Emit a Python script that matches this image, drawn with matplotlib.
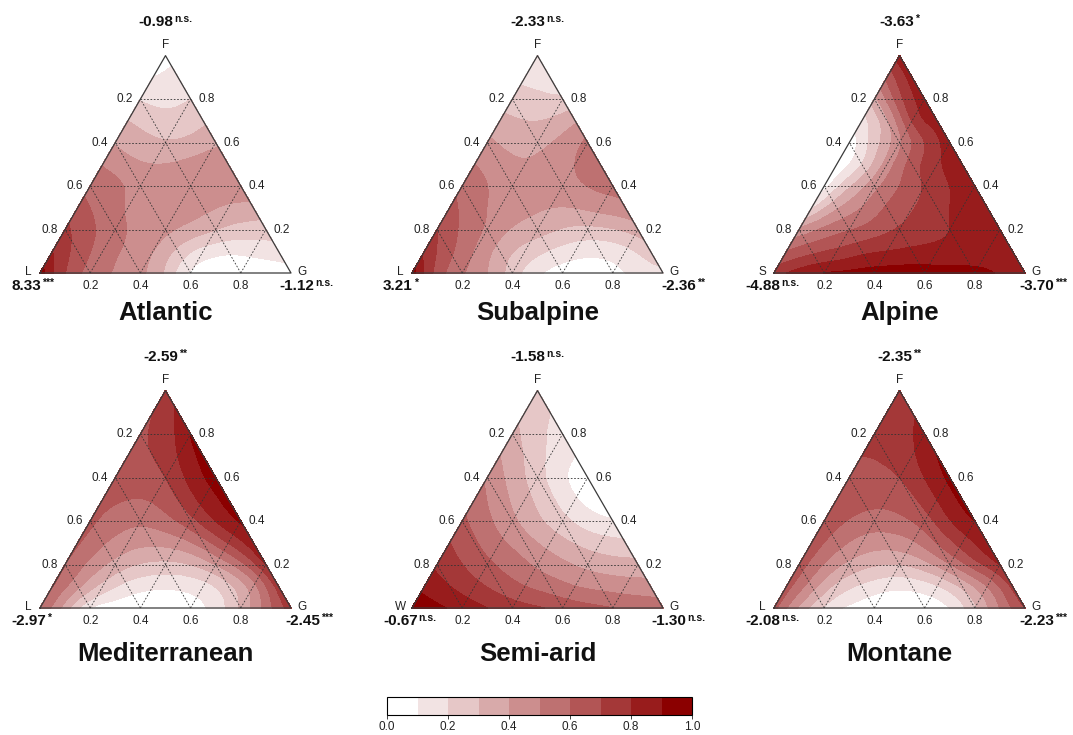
import numpy as np
import matplotlib
matplotlib.use("Agg")
import matplotlib.pyplot as plt
import matplotlib.tri as mtri
from matplotlib.colors import LinearSegmentedColormap

plt.rcParams['font.family'] = ['Liberation Sans', 'DejaVu Sans']

H = np.sqrt(3) / 2

titles = ["Atlantic", "Subalpine", "Alpine", "Mediterranean", "Semi-arid", "Montane"]
left_names = ["L", "L", "S", "L", "W", "L"]
top_coef = [("-0.98", "n.s."), ("-2.33", "n.s."), ("-3.63", "*"),
            ("-2.59", "**"), ("-1.58", "n.s."), ("-2.35", "**")]
left_coef = [("8.33", "***"), ("3.21", "*"), ("-4.88", "n.s."),
             ("-2.97", "*"), ("-0.67", "n.s."), ("-2.08", "n.s.")]
right_coef = [("-1.12", "n.s."), ("-2.36", "**"), ("-3.70", "***"),
              ("-2.45", "***"), ("-1.30", "n.s."), ("-2.23", "***")]

# predicted surface on a 0.1 lattice: rows go from F=1 (apex) down to F=0,
# each row runs from the left vertex (G=0) to the right edge (G=1-F)
atlantic = [
    [0.05],
    [0.10, 0.14],
    [0.19, 0.17, 0.20],
    [0.30, 0.25, 0.24, 0.28],
    [0.39, 0.34, 0.31, 0.33, 0.38],
    [0.49, 0.43, 0.40, 0.41, 0.44, 0.46],
    [0.57, 0.52, 0.46, 0.44, 0.45, 0.47, 0.48],
    [0.64, 0.56, 0.49, 0.45, 0.44, 0.42, 0.38, 0.36],
    [0.72, 0.62, 0.53, 0.47, 0.42, 0.36, 0.30, 0.26, 0.25],
    [0.80, 0.66, 0.55, 0.48, 0.40, 0.27, 0.16, 0.12, 0.13, 0.15],
    [0.95, 0.70, 0.56, 0.49, 0.42, 0.28, 0.08, 0.03, 0.02, 0.03, 0.05],
]
subalpine = [
    [0.12],
    [0.17, 0.13],
    [0.25, 0.23, 0.22],
    [0.33, 0.30, 0.31, 0.38],
    [0.42, 0.37, 0.37, 0.43, 0.52],
    [0.50, 0.44, 0.41, 0.44, 0.50, 0.56],
    [0.57, 0.50, 0.44, 0.43, 0.46, 0.50, 0.53],
    [0.63, 0.54, 0.46, 0.42, 0.40, 0.40, 0.43, 0.46],
    [0.70, 0.58, 0.48, 0.39, 0.34, 0.29, 0.27, 0.29, 0.35],
    [0.78, 0.62, 0.49, 0.36, 0.26, 0.19, 0.14, 0.13, 0.17, 0.25],
    [0.95, 0.66, 0.51, 0.40, 0.25, 0.12, 0.05, 0.04, 0.07, 0.13, 0.17],
]
alpine = [
    [0.86],
    [0.62, 0.84],
    [0.36, 0.66, 0.85],
    [0.16, 0.38, 0.70, 0.85],
    [0.04, 0.25, 0.48, 0.70, 0.85],
    [0.01, 0.20, 0.44, 0.64, 0.78, 0.85],
    [0.05, 0.28, 0.46, 0.60, 0.71, 0.80, 0.85],
    [0.18, 0.38, 0.50, 0.61, 0.69, 0.77, 0.82, 0.85],
    [0.42, 0.52, 0.59, 0.65, 0.71, 0.76, 0.80, 0.83, 0.85],
    [0.60, 0.67, 0.72, 0.77, 0.80, 0.82, 0.83, 0.84, 0.85, 0.85],
    [0.75, 0.84, 0.90, 0.92, 0.94, 0.95, 0.95, 0.94, 0.93, 0.89, 0.85],
]
mediterranean = [
    [0.74],
    [0.70, 0.82],
    [0.69, 0.75, 0.90],
    [0.67, 0.70, 0.80, 0.93],
    [0.65, 0.65, 0.70, 0.83, 0.94],
    [0.63, 0.60, 0.61, 0.70, 0.83, 0.93],
    [0.62, 0.55, 0.52, 0.56, 0.66, 0.80, 0.91],
    [0.61, 0.51, 0.44, 0.42, 0.45, 0.55, 0.70, 0.86],
    [0.60, 0.47, 0.36, 0.29, 0.27, 0.30, 0.40, 0.56, 0.80],
    [0.60, 0.42, 0.26, 0.16, 0.12, 0.12, 0.16, 0.27, 0.46, 0.74],
    [0.60, 0.35, 0.10, 0.04, 0.02, 0.02, 0.06, 0.14, 0.32, 0.54, 0.74],
]
semi_arid = [
    [0.22],
    [0.27, 0.20],
    [0.33, 0.23, 0.15],
    [0.40, 0.29, 0.18, 0.10],
    [0.48, 0.36, 0.24, 0.12, 0.03],
    [0.55, 0.44, 0.33, 0.22, 0.11, 0.04],
    [0.62, 0.52, 0.42, 0.32, 0.23, 0.15, 0.11],
    [0.70, 0.61, 0.52, 0.44, 0.36, 0.29, 0.24, 0.22],
    [0.78, 0.70, 0.62, 0.55, 0.48, 0.42, 0.37, 0.34, 0.33],
    [0.87, 0.80, 0.73, 0.66, 0.60, 0.55, 0.50, 0.47, 0.45, 0.44],
    [0.96, 0.92, 0.86, 0.80, 0.75, 0.71, 0.67, 0.63, 0.60, 0.57, 0.55],
]
montane = [
    [0.72],
    [0.72, 0.78],
    [0.71, 0.74, 0.86],
    [0.70, 0.71, 0.78, 0.90],
    [0.69, 0.68, 0.70, 0.80, 0.92],
    [0.68, 0.64, 0.63, 0.68, 0.80, 0.92],
    [0.67, 0.59, 0.55, 0.57, 0.65, 0.79, 0.90],
    [0.66, 0.54, 0.46, 0.44, 0.48, 0.60, 0.74, 0.86],
    [0.65, 0.49, 0.37, 0.31, 0.30, 0.36, 0.49, 0.65, 0.80],
    [0.64, 0.44, 0.27, 0.18, 0.13, 0.13, 0.19, 0.32, 0.50, 0.72],
    [0.63, 0.38, 0.18, 0.08, 0.03, 0.02, 0.03, 0.10, 0.28, 0.50, 0.70],
]
surfaces = [atlantic, subalpine, alpine, mediterranean, semi_arid, montane]

levels = np.linspace(0, 1, 11)
ramp = LinearSegmentedColormap.from_list("wr", ["#ffffff", "#8b0000"])
colors = [ramp(i / 9) for i in range(10)]


def lattice(rows):
    n = len(rows) - 1
    x, y, z = [], [], []
    for i, row in enumerate(rows):
        f = 1 - i / n
        for j, v in enumerate(row):
            g = j / n
            x.append(g + f / 2)
            y.append(f * H)
            z.append(v)
    idx = lambda i, j: i * (i + 1) // 2 + j
    tris = []
    for i in range(n):
        for j in range(i + 1):
            tris.append([idx(i, j), idx(i + 1, j), idx(i + 1, j + 1)])
            if j < i:
                tris.append([idx(i, j), idx(i + 1, j + 1), idx(i, j + 1)])
    return mtri.Triangulation(x, y, tris), np.array(z)


fig = plt.figure(figsize=(10.73, 7.35), dpi=100)
renderer = fig.canvas.get_renderer()
W, FH = 1073.0, 735.0
scale = 251.0                      # pixels per triangle side
x_left = [40, 412, 774]
y_base = [273, 608]
title_off = [-0.16, -0.183]
xr, yr = (-0.3, 1.3), (-0.5, 1.05)


def coef_label(ax, x, y, value, sig, align):
    # bold value with a small significance mark raised after it
    t = ax.text(x, y, value, ha='left', va='center', fontsize=11,
                fontweight='bold', color='#111111')
    s = ax.annotate(sig, xy=(1, 1), xycoords=t, xytext=(0.6, 0.6),
                    textcoords='offset points', ha='left', va='top',
                    fontsize=7.5, fontweight='bold', color='#111111')
    total = (t.get_window_extent(renderer).width
             + s.get_window_extent(renderer).width + 0.6 * 100 / 72)
    t.set_x(x - align * total / scale)


cs = None
for k in range(6):
    r, c = divmod(k, 3)
    px = x_left[c] + xr[0] * scale
    py = y_base[r] - yr[0] * scale
    ax = fig.add_axes([px / W, 1 - py / FH,
                       (xr[1] - xr[0]) * scale / W, (yr[1] - yr[0]) * scale / FH])
    ax.set_xlim(*xr)
    ax.set_ylim(*yr)
    ax.axis('off')

    tri, z = lattice(surfaces[k])
    interp = mtri.CubicTriInterpolator(tri, z, kind='min_E')
    tri_r, z_r = mtri.UniformTriRefiner(tri).refine_field(z, triinterpolator=interp, subdiv=4)
    z_r = np.clip(z_r, 0, 1)
    cs = ax.tricontourf(tri_r, z_r, levels=levels, colors=colors)
    cs.set_edgecolor('face')
    cs.set_linewidth(0.4)

    # dotted reference grid
    for v in (0.2, 0.4, 0.6, 0.8):
        gl = dict(color='#333333', lw=0.6, ls=(0, (2, 2)))
        ax.plot([v / 2, 1 - v / 2], [v * H, v * H], **gl)
        ax.plot([v, v + (1 - v) / 2], [0, (1 - v) * H], **gl)
        ax.plot([1 - v, (1 - v) / 2], [0, (1 - v) * H], **gl)

    ax.plot([0, 1, 0.5, 0], [0, 0, H, 0], color='#3a3a3a', lw=0.9)

    tk = dict(fontsize=8.5, color='#222222')
    for v in (0.2, 0.4, 0.6, 0.8):
        ax.text(v / 2 - 0.03, v * H, f"{1 - v:.1f}", ha='right', va='center', **tk)
        ax.text(1 - v / 2 + 0.03, v * H, f"{v:.1f}", ha='left', va='center', **tk)
        ax.text(v, -0.052, f"{v:.1f}", ha='center', va='center', **tk)

    ax.text(0.5, H + 0.044, "F", ha='center', va='center', **tk)
    ax.text(-0.045, 0.005, left_names[k], ha='center', va='center', **tk)
    ax.text(1.045, 0.005, "G", ha='center', va='center', **tk)

    coef_label(ax, 0.5, H + 0.135, *top_coef[k], 0.5)
    coef_label(ax, -0.115, -0.05, *left_coef[k], 0.0)
    coef_label(ax, 1.167, -0.05, *right_coef[k], 1.0)

    ax.text(0.5, title_off[r], titles[k], ha='center', va='center',
            fontsize=18.5, fontweight='bold', color='#111111')

cax = fig.add_axes([387 / W, 1 - 715 / FH, 305 / W, 18 / FH])
cb = fig.colorbar(cs, cax=cax, orientation='horizontal')
ticks = [0, 0.2, 0.4, 0.6, 0.8, 1.0]
cb.set_ticks(ticks)
cb.ax.set_xticklabels([f"{t:.1f}" for t in ticks])
cb.ax.tick_params(labelsize=8.5, length=3, width=0.6, pad=1.5, colors='#222222')
cb.outline.set_linewidth(0.8)

fig.savefig("out.png", dpi=100)
